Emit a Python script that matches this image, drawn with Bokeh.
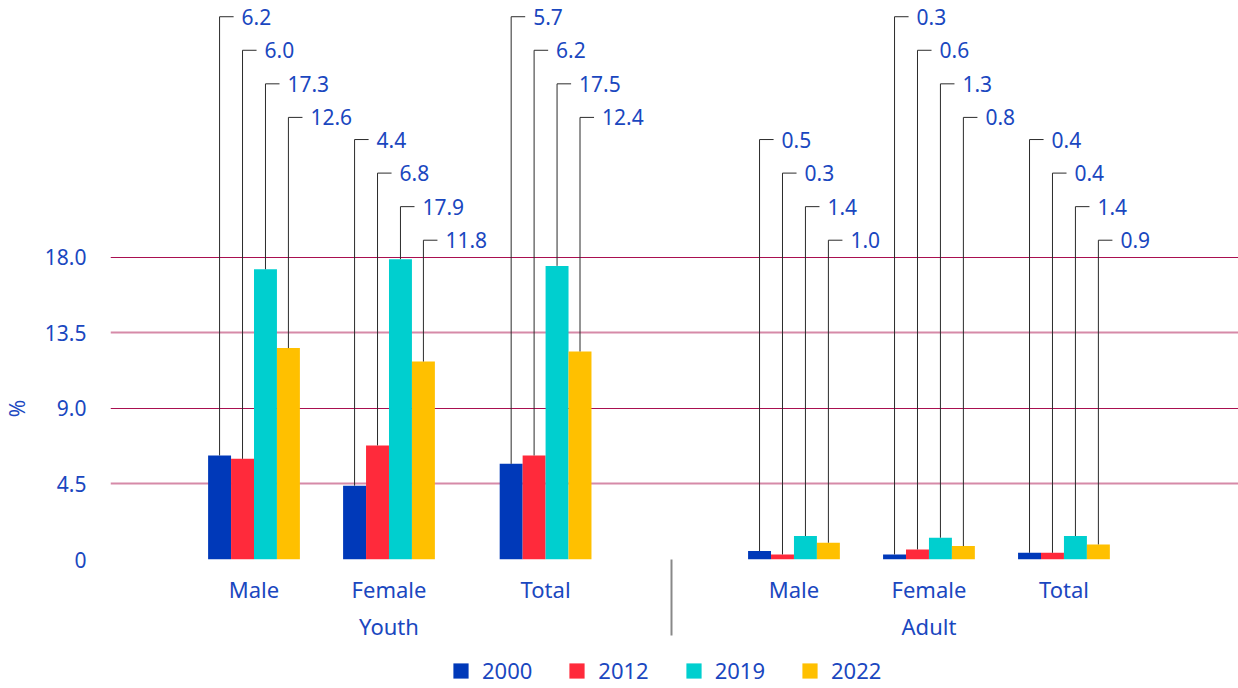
import math
from bokeh.plotting import figure
from bokeh.layouts import column
from bokeh.models import (Range1d, FixedTicker, LinearAxis, Legend, LegendItem,
                          ColumnDataSource, Grid)
from bokeh.core.properties import value
from bokeh.embed import file_html
from bokeh.resources import INLINE

# ---------------- data ----------------
groups = ["Youth", "Adult"]
categories = ["Male", "Female", "Total", "Male", "Female", "Total"]
years = ["2000", "2012", "2019", "2022"]
v2000 = [6.2, 4.4, 5.7, 0.5, 0.3, 0.4]
v2012 = [6.0, 6.8, 6.2, 0.3, 0.6, 0.4]
v2019 = [17.3, 17.9, 17.5, 1.4, 1.3, 1.4]
v2022 = [12.6, 11.8, 12.4, 1.0, 0.8, 0.9]
y_ticks = [0, 4.5, 9.0, 13.5, 18.0]
y_tick_labels = ["0", "4.5", "9.0", "13.5", "18.0"]
y_unit = "%"

series = [v2000, v2012, v2019, v2022]
colors = ["#0039b9", "#ff2a3b", "#00cfcf", "#ffc000"]

# ---------------- layout ----------------
SLOT = [0, 1, 2.16, 4, 5, 6]        # category centres on the x scale
GROUP_SLOT = [1, 5]                 # where the group names sit
SEP = 3.093                         # separator between the two groups
BAR_W = 0.17
LEAD_H = 0.104
LABEL_TOP = [32.35, 25.03]
LABEL_STEP = 2.0
UNIT_AT = 9.0                       # height at which the unit sign sits

TEXT_BLUE = "#1a47bf"
FONT = "Noto Sans"
W = 1238

p = figure(width=W, height=653, output_backend="svg", toolbar_location=None,
           x_range=Range1d(-1.063, 7.293), y_range=Range1d(0, 32.84),
           min_border_left=110, min_border_right=0, min_border_top=8,
           min_border_bottom=94)
p.outline_line_color = None
p.xgrid.visible = False
p.background_fill_color = "white"

sources = []
for j, vals in enumerate(series):
    xs = [s + (j - 1.5) * BAR_W for s in SLOT]
    src = ColumnDataSource(dict(x=xs, top=vals))
    sources.append(src)
    p.vbar(x="x", top="top", width=BAR_W, source=src, fill_color=colors[j],
           line_color=None)

# leader lines and value labels
lx, ly0, ly1, hx1, tx, ty, tt = [], [], [], [], [], [], []
for i, s in enumerate(SLOT):
    base = LABEL_TOP[i % 2]
    for j, vals in enumerate(series):
        x = s + (j - 1.5) * BAR_W
        yl = base - j * LABEL_STEP
        lx.append(x); ly0.append(vals[i]); ly1.append(yl); hx1.append(x + LEAD_H)
        tx.append(x); ty.append(yl); tt.append(f"{vals[i]:.1f}")

p.segment(x0=lx, y0=ly0, x1=lx, y1=ly1, line_color="#2b2b2b", line_width=1)
p.segment(x0=lx, y0=ly1, x1=hx1, y1=ly1, line_color="#2b2b2b", line_width=1)
p.text(x=tx, y=ty, text=tt, x_offset=22, text_baseline="middle",
       text_align="left", text_font=value(FONT), text_font_size="21px",
       text_color=TEXT_BLUE)

# y axis
ya = p.yaxis[0]
ya.ticker = FixedTicker(ticks=y_ticks)
ya.major_label_overrides = {t: l for t, l in zip(y_ticks, y_tick_labels)}
ya.axis_line_color = None
ya.major_tick_line_color = None
ya.minor_tick_line_color = None
ya.major_tick_in = 0
ya.major_label_standoff = 18
ya.major_label_text_font = FONT
ya.major_label_text_font_size = "21px"
ya.major_label_text_color = TEXT_BLUE
p.ygrid.ticker = FixedTicker(ticks=y_ticks[0::2])
p.ygrid.grid_line_color = "#a90f50"
p.ygrid.grid_line_width = 1
p.add_layout(Grid(dimension=1, ticker=FixedTicker(ticks=y_ticks[1::2]),
                  grid_line_color="#d68aa8", grid_line_width=2))

# unit sign as a second, outer left axis with a single rotated label
ua = LinearAxis(ticker=FixedTicker(ticks=[UNIT_AT], minor_ticks=[]))
ua.major_label_overrides = {UNIT_AT: y_unit}
ua.major_label_orientation = "vertical"
ua.axis_line_color = None
ua.major_tick_line_color = None
ua.minor_tick_line_color = None
ua.major_tick_in = 0
ua.major_label_standoff = 4
ua.major_label_text_font = FONT
ua.major_label_text_font_size = "21px"
ua.major_label_text_color = TEXT_BLUE
p.add_layout(ua, "left")

# x axis: categories (its minor tick is the group separator)
xa = p.xaxis[0]
xa.ticker = FixedTicker(ticks=SLOT, minor_ticks=[SEP])
xa.major_label_overrides = {float(s): c for s, c in zip(SLOT, categories)}
xa.axis_line_color = None
xa.major_tick_line_color = None
xa.major_tick_out = 0
xa.minor_tick_line_color = "#888888"
xa.minor_tick_line_width = 2
xa.minor_tick_in = 0
xa.minor_tick_out = 76
xa.major_label_standoff = 14 - 76
xa.major_label_text_font = FONT
xa.major_label_text_font_size = "22px"
xa.major_label_text_color = TEXT_BLUE

# x axis: groups
ga = LinearAxis(ticker=FixedTicker(ticks=GROUP_SLOT, minor_ticks=[]))
ga.major_label_overrides = {float(s): g for s, g in zip(GROUP_SLOT, groups)}
ga.axis_line_color = None
ga.major_tick_line_color = None
ga.minor_tick_line_color = None
ga.major_tick_out = 0
ga.major_label_standoff = 4
ga.major_label_text_font = FONT
ga.major_label_text_font_size = "22px"
ga.major_label_text_color = TEXT_BLUE
p.add_layout(ga, "below")

# legend strip underneath (same data sources, bars fall outside its view)
pl = figure(width=W, height=35, output_backend="svg", toolbar_location=None,
            x_range=Range1d(-1.063, 7.293), y_range=Range1d(100, 101),
            x_axis_location=None, y_axis_location=None,
            min_border_left=110, min_border_right=0, min_border_top=0,
            min_border_bottom=0)
pl.outline_line_color = None
pl.grid.visible = False
leg_renderers = [pl.vbar(x="x", top="top", width=BAR_W, source=sources[j],
                         fill_color=colors[j], line_color=None)
                 for j in range(len(years))]
legend = Legend(items=[LegendItem(label=y, renderers=[r]) for y, r in zip(years, leg_renderers)],
                orientation="horizontal", location=(341, 3),
                glyph_width=19, glyph_height=19, label_standoff=12, spacing=35,
                label_text_font=FONT, label_text_font_size="22px",
                label_text_color=TEXT_BLUE, border_line_color=None,
                padding=2, margin=0, background_fill_alpha=0)
pl.add_layout(legend, "center")

layout = column(p, pl, spacing=0)
open("out.html", "w").write(file_html(layout, INLINE))
